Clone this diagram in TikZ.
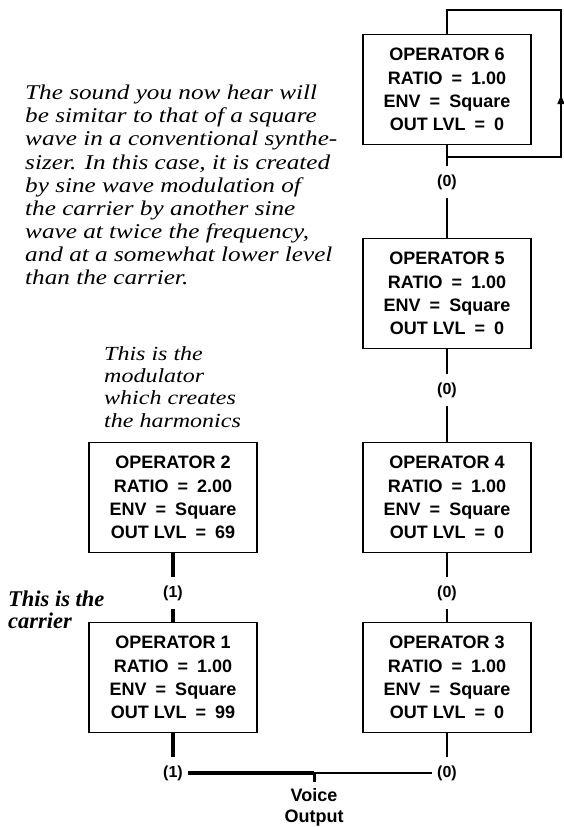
\documentclass[tikz,border=0pt]{standalone}
\usepackage{fontspec}
\setmainfont{Liberation Serif}
\setsansfont{Liberation Sans}
\newfontfamily\notefont[FakeStretch=1.2]{Liberation Serif}
\usetikzlibrary{positioning, arrows.meta, decorations.markings}

\newcommand\opeq{\enspace=\enspace}

\tikzset{
  opbox/.style={draw, line width=1.4pt, minimum width=168pt, minimum height=110pt,
    align=center, inner sep=0pt, font=\sffamily\bfseries\fontsize{18}{23.3}\selectfont},
  lvl/.style={inner xsep=5pt, inner ysep=8pt, font=\sffamily\bfseries\fontsize{16}{16}\selectfont},
  note/.style={anchor=north west, inner sep=0pt, align=left},
  wire/.style={line width=1.5pt},
  heavy/.style={line width=4pt},
  fb/.style={line width=2pt, line join=miter},
}

\begin{document}
\begin{tikzpicture}[x=1pt,y=1pt,node distance=204pt]
    \useasboundingbox (0,0) rectangle (564,-827);

    % operators
    \node[opbox] (op6) at (447,-89.5) {OPERATOR 6\\RATIO\opeq1.00\\ENV\opeq Square\\OUT LVL\opeq0};
    \node[opbox] (op5) [below of=op6] {OPERATOR 5\\RATIO\opeq1.00\\ENV\opeq Square\\OUT LVL\opeq0};
    \node[opbox] (op4) [below of=op5] {OPERATOR 4\\RATIO\opeq1.00\\ENV\opeq Square\\OUT LVL\opeq0};
    \node[opbox] (op3) [below of=op4, node distance=180pt] {OPERATOR 3\\RATIO\opeq1.00\\ENV\opeq Square\\OUT LVL\opeq0};
    \node[opbox] (op2) [left of=op4, node distance=274pt] {OPERATOR 2\\RATIO\opeq2.00\\ENV\opeq Square\\OUT LVL\opeq69};
    \node[opbox] (op1) [left of=op3, node distance=274pt] {OPERATOR 1\\RATIO\opeq1.00\\ENV\opeq Square\\OUT LVL\opeq99};

    % levels
    \node[lvl] (l65) at (447,-182) {(0)};
    \node[lvl] (l54) at (447,-390) {(0)};
    \node[lvl] (l43) at (447,-593) {(0)};
    \node[lvl] (l21) at (173,-593) {(1)};
    \node[lvl] (out1) at (173,-773) {(1)};
    \node[lvl] (out3) at (447,-773) {(0)};

    \draw[wire] (op6.south) -- (l65.north);
    \draw[wire] (l65.south) -- (op5.north);
    \draw[wire] (op5.south) -- (l54.north);
    \draw[wire] (l54.south) -- (op4.north);
    \draw[wire] (op4.south) -- (l43.north);
    \draw[wire] (l43.south) -- (op3.north);
    \draw[wire] (op3.south) -- (out3.north);
    \draw[heavy] (op2.south) -- (l21.north);
    \draw[heavy] (l21.south) -- (op1.north);
    \draw[heavy] (op1.south) -- (out1.north);

    % feedback of operator 6
    \coordinate (fbA) at (447,-157);
    \coordinate (fbB) at (561,-157);
    \coordinate (fbC) at (561,-10);
    \coordinate (fbD) at (447,-10);
    \draw[fb, postaction={decorate}, decoration={markings,
        mark=at position 0.457 with {\arrow{Triangle[length=9pt,width=7pt]}}}]
        (op6.south) -- (fbA) -- (fbB) -- (fbC) -- (fbD) -- (op6.north);

    % voice output
    \coordinate (tap) at (314,-773);
    \coordinate (tapend) at (314,-782);
    \draw[line width=3.5pt] (out1.east) -- (tap);
    \draw[line width=2pt] (tap) -- (out3.west);
    \draw[line width=3pt] (tap) -- (tapend);
    \node[below=6pt of tapend, inner sep=0pt, align=center,
        font=\sffamily\bfseries\fontsize{18}{21}\selectfont] (voice) {Voice\\Output};

    % notes
    \node[note, font=\notefont\itshape\fontsize{21}{23.1}\selectfont] (story) at (25,-85)
        {The sound you now hear will\\be simitar to that of a square\\wave in a conventional synthe-\\sizer. In this case, it is created\\by sine wave modulation of\\the carrier by another sine\\wave at twice the frequency,\\and at a somewhat lower level\\than the carrier.};
    \node[note, font=\notefont\itshape\fontsize{20}{22.4}\selectfont] (modnote) at (104,-346)
        {This is the\\modulator\\which creates\\the harmonics};
    \node[note, font=\bfseries\itshape\fontsize{22.5}{22}\selectfont] (carnote) at (8,-591)
        {This is the\\carrier};
\end{tikzpicture}
\end{document}
